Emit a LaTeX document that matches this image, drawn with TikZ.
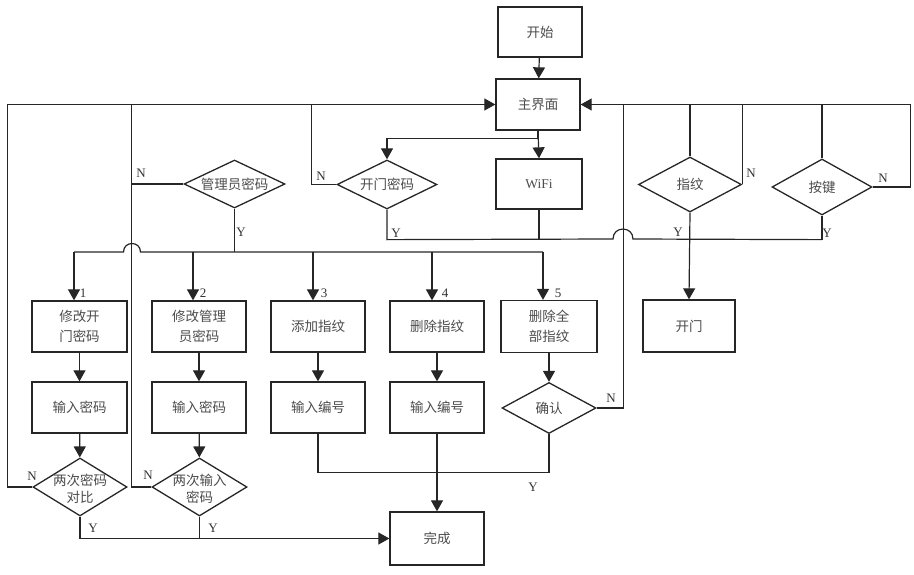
\documentclass[tikz,border=0pt]{standalone}
\usepackage{fontspec}
\setmainfont{Liberation Serif}
\newfontfamily\cjk{Noto Sans CJK SC}
\usetikzlibrary{arrows.meta,shapes.geometric}
\begin{document}
\begin{tikzpicture}[x=1pt,y=-1pt,
  ln/.style={draw=black!85,line width=1.2pt},
  arr/.style={ln,-{Triangle[length=11pt,width=12pt]}},
  box/.style={draw=black!85,line width=1.3pt,minimum width=94pt,minimum height=51pt,inner sep=0pt,
    font=\cjk\fontsize{13.5}{20}\selectfont,text=black!70,align=center},
  dia/.style={diamond,draw=black!85,line width=1.3pt,inner sep=0pt},
  txt/.style={font=\cjk\fontsize{13.5}{17}\selectfont,text=black!70,align=center,inner sep=0pt},
  lab/.style={font=\fontsize{13}{14}\selectfont,text=black!80,inner sep=0pt}]
\useasboundingbox (0,0) rectangle (914,575);
% boxes
\node[box,minimum width=84pt,minimum height=50pt] (start) at (540,32) {开始};
\node[box,minimum width=84pt] (main) at (538,104.5) {主界面};
\node[box,minimum width=86pt,minimum height=50pt,font=\fontsize{13.5}{16}\selectfont] (wifi) at (539,184) {WiFi};
\node[box,minimum width=92pt,minimum height=52pt] (door) at (689,326) {开门};
\node[box,minimum width=95pt] (box1) at (79.5,326.5) {修改开\\门密码};
\node[box] (box2) at (199,326.5) {修改管理\\员密码};
\node[box] (box3) at (318,326.5) {添加指纹};
\node[box] (box4) at (437,326.5) {删除指纹};
\node[box,minimum width=96pt,minimum height=52pt] (box5) at (549,326.5) {删除全\\部指纹};
\node[box,minimum width=95pt] (in1) at (79.5,407.5) {输入密码};
\node[box] (in2) at (199,407.5) {输入密码};
\node[box] (in3) at (318,407.5) {输入编号};
\node[box] (in4) at (437,407.5) {输入编号};
\node[box,minimum height=53pt] (done) at (437,538.5) {完成};
% diamonds
\node[dia,minimum width=101pt,minimum height=48pt] (admin) at (234.5,184) {};
\node[txt] (admint) at (admin) {管理员密码};
\node[dia,minimum width=100pt,minimum height=49pt] (pwd) at (387,184.5) {};
\node[txt] (pwdt) at (pwd) {开门密码};
\node[dia,minimum width=103pt,minimum height=55pt] (fp) at (690,184.5) {};
\node[txt] (fpt) at (fp) {指纹};
\node[dia,minimum width=100pt,minimum height=56pt] (keyd) at (822,187) {};
\node[txt] (keydt) at (keyd) {按键};
\node[dia,minimum width=94pt,minimum height=51pt] (confirm) at (549,408) {};
\node[txt] (confirmt) at (confirm) {确认};
\node[dia,minimum width=94pt,minimum height=58pt] (d1) at (80,487) {};
\node[txt] (d1t) at (80,489) {两次密码\\对比};
\node[dia,minimum width=95pt,minimum height=58pt] (d2) at (199.5,487) {};
\node[txt] (d2t) at (199.5,489) {两次输入\\密码};
% connectors top
\draw[arr] (start) -- (main);
\draw[arr] (main.south) -- (wifi.north);
\draw[arr] (main.south) -- ++(0,8) -| (pwd.north);
\draw[ln] (pwd.west) -- ++(-25,0) coordinate (pn) -- (pn |- main.west);
\draw[arr] (d1.west) -- ++(-25,0) |- (main.west);
\draw[ln] (d2.west) -- ++(-20,0) coordinate (v2) -- (v2 |- main.west);
\draw[ln] (admin.west) -- (admin.west -| v2);
\draw[arr] (keyd.east) -- ++(38,0) |- (main.east);
\draw[ln] (fp.north) -- (fp.north |- main.east);
\draw[ln] (fp.east) -- (fp.east |- main.east);
\draw[ln] (keyd.north) -- (keyd.north |- main.east);
\draw[ln] (confirm.east) -- ++(27,0) coordinate (cn) -- (cn |- main.east);
\draw[arr] (fp.south) -- (door.north);
% Y bus right
\draw[ln] (keyd.south) -- ++(0,24) coordinate (ybus);
\draw[ln] (wifi.south) -- (wifi.south |- ybus);
\draw[ln] (pwd.south) -- (pwd.south |- ybus) -- (613,239) .. controls (613,225.7) and (633,225.7) .. (633,239) -- (ybus);
% admin bus
\coordinate (b1) at (74,252);
\coordinate (b2) at (193,252);
\coordinate (b3) at (313,252);
\coordinate (b4) at (432,252);
\coordinate (b5) at (543,252);
\draw[ln] (admin.south) -- (admin.south |- b1);
\draw[ln] (b1) -- (123.5,252) .. controls (123.5,240.7) and (140.5,240.7) .. (140.5,252) -- (b5);
\draw[arr] (b1) -- (b1 |- box1.north);
\draw[arr] (b2) -- (b2 |- box2.north);
\draw[arr] (b3) -- (b3 |- box3.north);
\draw[arr] (b4) -- (b4 |- box4.north);
\draw[arr] (b5) -- (b5 |- box5.north);
% columns
\draw[arr] (box1) -- (in1);
\draw[arr] (in1) -- (d1);
\draw[arr] (box2) -- (in2);
\draw[arr] (in2) -- (d2);
\draw[arr] (box3) -- (in3);
\draw[arr] (box4) -- (in4);
\draw[arr] (box5) -- (confirm);
\draw[arr] (d1.south) |- (done.west);
\draw[ln] (d2.south) -- (d2.south |- done.west);
\draw[ln] (in3.south) -- ++(0,39) -| (confirm.south);
\draw[arr] (in4.south) -- (done.north);
% labels
\node[lab] (l1) at (141,173) {N};
\node[lab] (l2) at (241,232) {Y};
\node[lab] (l3) at (321,176) {N};
\node[lab] (l4) at (396,233) {Y};
\node[lab] (l5) at (751,173) {N};
\node[lab] (l6) at (678,232) {Y};
\node[lab] (l7) at (883,178) {N};
\node[lab] (l8) at (827,233) {Y};
\node[lab] (l9) at (611,398) {N};
\node[lab] (l10) at (533,487) {Y};
\node[lab] (l11) at (32,476) {N};
\node[lab] (l12) at (148,475) {N};
\node[lab] (l13) at (93,528) {Y};
\node[lab] (l14) at (213,528) {Y};
\node[lab] (n1) at (83,293) {1};
\node[lab] (n2) at (203,293) {2};
\node[lab] (n3) at (324,293) {3};
\node[lab] (n4) at (445,293) {4};
\node[lab] (n5) at (558,293) {5};
\end{tikzpicture}
\end{document}
